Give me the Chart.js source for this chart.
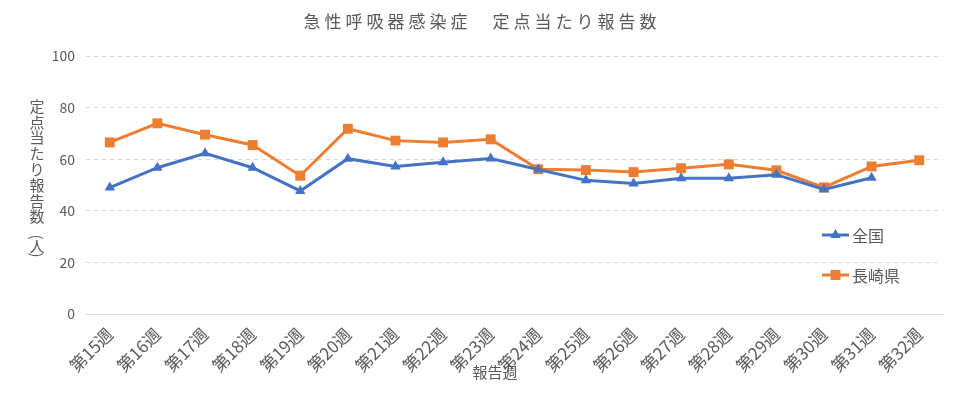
<!DOCTYPE html>
<html>
<head>
<meta charset="utf-8">
<script src="https://cdn.jsdelivr.net/npm/chart.js@4/dist/chart.umd.min.js"></script>
<style>
    html, body { margin: 0; padding: 0; background: #ffffff; }
    #wrap { width: 963px; height: 399px; position: relative; }
</style>
</head>
<body>
<div id="wrap"><canvas id="teitenChart"></canvas></div>
<script>
const weeks = ['第15週', '第16週', '第17週', '第18週', '第19週', '第20週', '第21週', '第22週', '第23週',
    '第24週', '第25週', '第26週', '第27週', '第28週', '第29週', '第30週', '第31週', '第32週'];
const zenkoku = [49.0, 56.7, 62.3, 56.7, 47.7, 60.2, 57.2, 58.8, 60.3,
    56.0, 51.8, 50.6, 52.6, 52.6, 54.0, 48.3, 52.8, null];
const nagasaki = [66.5, 73.9, 69.5, 65.5, 53.6, 71.8, 67.2, 66.5, 67.7,
    56.1, 55.8, 55.0, 56.5, 58.0, 55.7, 49.1, 57.2, 59.6];
const yTicks = [0, 20, 40, 60, 80, 100];

const FONT = '"Noto Sans CJK JP", "Noto Sans", sans-serif';
const GRAY = '#595959';
const BLUE = '#4472C4';
const ORANGE = '#ED7D31';

// title, axis titles and legend drawn by hand
const extras = {
    id: 'extras',
    afterDraw(chart) {
        const ctx = chart.ctx;
        ctx.save();
        ctx.fillStyle = GRAY;
        ctx.textAlign = 'center';
        ctx.textBaseline = 'middle';

        ctx.font = '17px ' + FONT;
        ctx.letterSpacing = '4px';
        ctx.fillText('急性呼吸器感染症　定点当たり報告数', 482, 22);
        ctx.letterSpacing = '0px';

        // vertical y-axis title
        ctx.font = '15px ' + FONT;
        const chars = '定点当たり報告数'.split('');
        chars.forEach(function (c, i) {
            ctx.fillText(c, 37, 106 + i * 15.8);
        });
        // (人) in vertical form
        ctx.save();
        ctx.translate(37, 237);
        ctx.rotate(Math.PI / 2);
        ctx.fillText('(', 0, 0);
        ctx.restore();
        ctx.fillText('人', 37, 246);
        ctx.save();
        ctx.translate(37, 255);
        ctx.rotate(Math.PI / 2);
        ctx.fillText(')', 0, 0);
        ctx.restore();

        ctx.font = '15px ' + FONT;
        ctx.fillText('報告週', 495, 372);

        // legend
        const items = [
            { label: '全国', color: BLUE, style: 'triangle', r: 6, y: 235 },
            { label: '長崎県', color: ORANGE, style: 'rect', r: 7, y: 275 }
        ];
        ctx.textAlign = 'left';
        ctx.font = '16px ' + FONT;
        items.forEach(function (it) {
            ctx.strokeStyle = it.color;
            ctx.lineWidth = 3;
            ctx.beginPath();
            ctx.moveTo(822, it.y);
            ctx.lineTo(849, it.y);
            ctx.stroke();
            ctx.fillStyle = it.color;
            Chart.helpers.drawPoint(ctx, { pointStyle: it.style, radius: it.r, borderWidth: 0 }, 835.5, it.y);
            ctx.fillStyle = GRAY;
            ctx.fillText(it.label, 852, it.y + 1);
        });
        ctx.restore();
    }
};

const config = {
    type: 'line',
    data: {
        labels: weeks,
        datasets: [{
            label: '全国',
            data: zenkoku,
            borderColor: BLUE,
            backgroundColor: BLUE,
            borderWidth: 3,
            pointStyle: 'triangle',
            pointRadius: 6,
            pointBorderWidth: 0,
            tension: 0
        }, {
            label: '長崎県',
            data: nagasaki,
            borderColor: ORANGE,
            backgroundColor: ORANGE,
            borderWidth: 3,
            pointStyle: 'rect',
            pointRadius: 7,
            pointBorderWidth: 0,
            tension: 0
        }]
    },
    options: {
        responsive: true,
        maintainAspectRatio: false,
        animation: false,
        layout: {
            padding: { top: 56, right: 20, left: 0, bottom: 0 }
        },
        plugins: {
            legend: { display: false },
            title: { display: false },
            tooltip: { enabled: false }
        },
        scales: {
            x: {
                offset: true,
                afterFit: function (scale) { scale.height = 85; },
                grid: { display: true, color: 'transparent', drawTicks: false },
                border: { display: true, color: '#d9d9d9', width: 1 },
                ticks: {
                    color: GRAY,
                    font: { family: FONT, size: 17 },
                    minRotation: 45,
                    maxRotation: 45,
                    autoSkip: false,
                    padding: 10
                }
            },
            y: {
                min: 0,
                max: 100,
                afterFit: function (scale) { scale.width = 86; },
                afterBuildTicks: function (scale) {
                    scale.ticks = yTicks.map(function (v) { return { value: v }; });
                },
                grid: { color: '#d9d9d9', lineWidth: 1, drawTicks: false },
                border: { display: false, dash: [4, 4] },
                ticks: {
                    color: GRAY,
                    font: { family: FONT, size: 14 },
                    padding: 11
                }
            }
        }
    },
    plugins: [extras]
};

const context = document.getElementById('teitenChart').getContext('2d');
const lineChart = new Chart(context, config);
</script>
</body>
</html>
